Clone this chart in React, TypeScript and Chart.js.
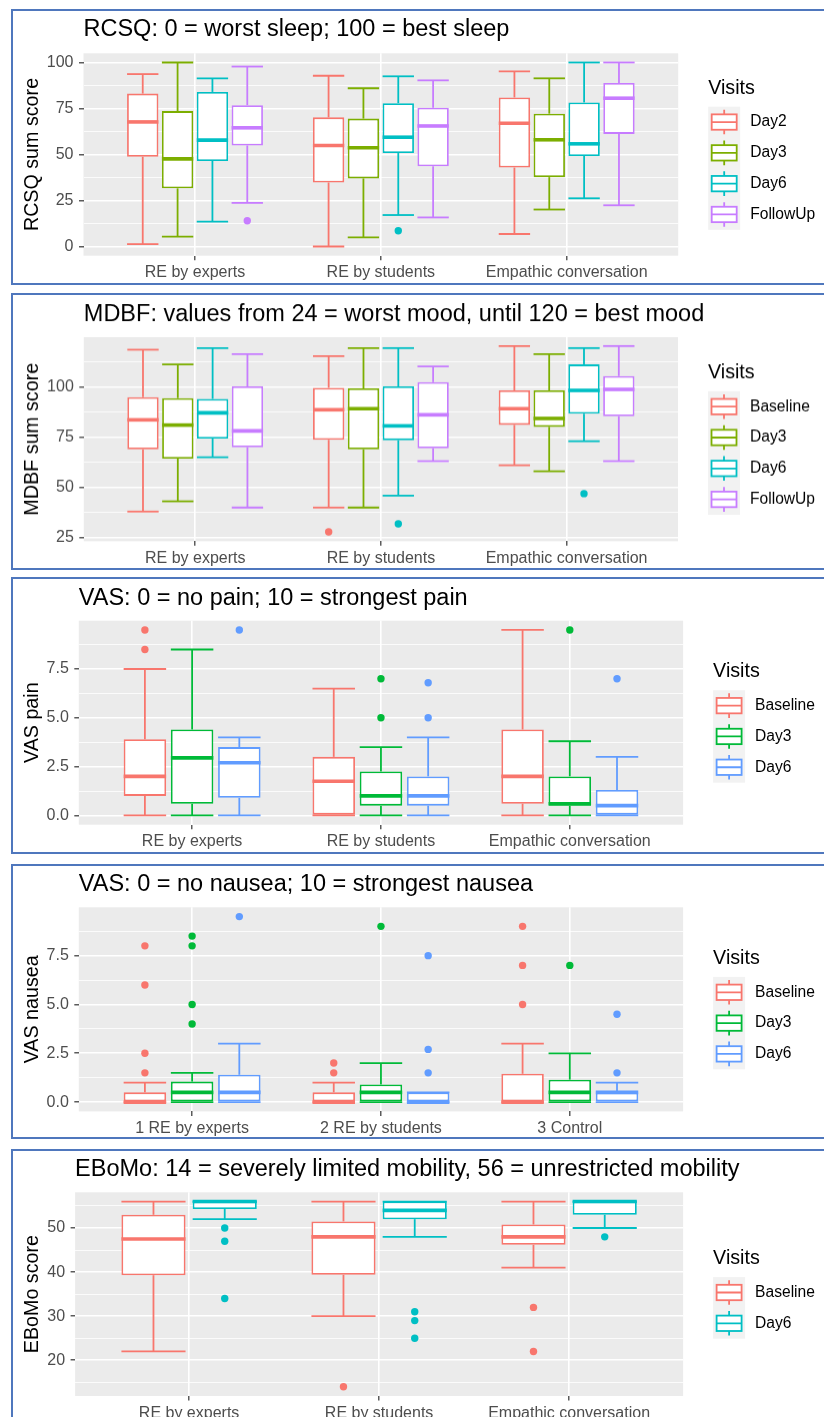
import React, { useEffect, useRef } from 'react';
import { Chart, registerables } from 'chart.js';

Chart.register(...registerables);

const FONT = '"Liberation Sans", Arial, Helvetica, sans-serif';

// ---------- categories / groups ----------
const GROUPS_MAIN = ['RE by experts', 'RE by students', 'Empathic conversation'];
const GROUPS_NAUSEA = ['1 RE by experts', '2 RE by students', '3 Control'];

const LEGEND_TITLE = 'Visits';
const VISITS_RCSQ = ['Day2', 'Day3', 'Day6', 'FollowUp'];
const VISITS_MDBF = ['Baseline', 'Day3', 'Day6', 'FollowUp'];
const VISITS_VAS = ['Baseline', 'Day3', 'Day6'];
const VISITS_EBOMO = ['Baseline', 'Day6'];

const HUE4 = ['#F8766D', '#7CAE00', '#00BFC4', '#C77CFF'];
const HUE3 = ['#F8766D', '#00BA38', '#619CFF'];
const HUE2 = ['#F8766D', '#00BFC4'];

// ---------- data: [lower whisker, Q1, median, Q3, upper whisker] per group ----------
// RCSQ
const RCSQ_DAY2 = [[1.3, 48.8, 67.7, 83.1, 93.7], [0, 34.8, 54.9, 70.2, 92.8], [6.8, 42.9, 67.0, 81.0, 95.2]];
const RCSQ_DAY3 = [[5.4, 31.6, 47.6, 73.6, 100], [5.0, 37.0, 53.7, 69.5, 86.0], [20.1, 37.7, 58.0, 72.2, 91.4]];
const RCSQ_DAY6 = [[13.5, 46.5, 57.8, 84.0, 91.4], [17.1, 50.8, 59.4, 77.9, 92.5], [26.2, 49.2, 55.8, 78.3, 100]];
const RCSQ_FOLLOWUP = [[23.7, 54.9, 64.5, 76.8, 97.8], [15.8, 43.6, 65.5, 75.4, 90.3], [22.4, 61.2, 80.6, 88.9, 100]];
const RCSQ_DAY2_OUT = [[], [], []];
const RCSQ_DAY3_OUT = [[], [], []];
const RCSQ_DAY6_OUT = [[], [8.6], []];
const RCSQ_FOLLOWUP_OUT = [[14.0], [], []];
const RCSQ_TICKS = [0, 25, 50, 75, 100];
const RCSQ_TICK_LABELS = ['0', '25', '50', '75', '100'];
const RCSQ_MINOR = [12.5, 37.5, 62.5, 87.5];
const RCSQ_RANGE = [-5, 105];

// MDBF
const MDBF_BASELINE = [[38.1, 69.0, 83.6, 94.9, 118.4], [40.1, 73.7, 88.6, 99.5, 115.2], [61.1, 81.1, 89.1, 98.2, 120.2]];
const MDBF_DAY3 = [[43.2, 64.4, 81.0, 94.4, 111.1], [40.1, 69.0, 89.1, 99.2, 119.2], [58.1, 80.1, 84.3, 98.2, 116.2]];
const MDBF_DAY6 = [[65.1, 74.3, 87.1, 94.0, 119.2], [46.0, 73.5, 80.6, 100.2, 119.2], [73.0, 86.6, 98.2, 111.1, 119.2]];
const MDBF_FOLLOWUP = [[40.1, 70.0, 78.1, 100.2, 116.2], [63.1, 69.5, 86.1, 102.3, 110.1], [63.1, 85.4, 98.7, 105.3, 120.2]];
const MDBF_BASELINE_OUT = [[], [28], []];
const MDBF_DAY3_OUT = [[], [], []];
const MDBF_DAY6_OUT = [[], [32], [47]];
const MDBF_FOLLOWUP_OUT = [[], [], []];
const MDBF_TICKS = [25, 50, 75, 100];
const MDBF_TICK_LABELS = ['25', '50', '75', '100'];
const MDBF_MINOR = [37.5, 62.5, 87.5, 112.5];
const MDBF_RANGE = [23.4, 124.6];

// VAS pain
const PAIN_BASELINE = [[0, 1.0, 2.0, 3.9, 7.5], [0, 0, 1.75, 3.0, 6.5], [0, 0.6, 2.0, 4.4, 9.5]];
const PAIN_DAY3 = [[0, 0.6, 2.95, 4.4, 8.5], [0, 0.5, 1.0, 2.25, 3.5], [0, 0.5, 0.6, 2.0, 3.8]];
const PAIN_DAY6 = [[0, 0.9, 2.7, 3.5, 4.0], [0, 0.5, 1.0, 2.0, 4.0], [0, 0, 0.5, 1.3, 3.0]];
const PAIN_BASELINE_OUT = [[8.5, 9.5], [], []];
const PAIN_DAY3_OUT = [[], [5.0, 7.0], [9.5]];
const PAIN_DAY6_OUT = [[9.5], [5.0, 6.8], [7.0]];

// VAS nausea
const NAUSEA_BASELINE = [[0, 0, 0, 0.5, 1.0], [0, 0, 0, 0.5, 1.0], [0, 0, 0, 1.45, 3.0]];
const NAUSEA_DAY3 = [[0, 0, 0.5, 1.05, 1.5], [0, 0, 0.5, 0.9, 2.0], [0, 0, 0.5, 1.15, 2.5]];
const NAUSEA_DAY6 = [[0, 0, 0.5, 1.4, 3.0], [0, 0, 0, 0.5, 0.5], [0, 0, 0.5, 0.5, 1.0]];
const NAUSEA_BASELINE_OUT = [[1.5, 2.5, 6.0, 8.0], [1.5, 2.0], [5.0, 7.0, 9.0]];
const NAUSEA_DAY3_OUT = [[4.0, 5.0, 8.0, 8.5], [9.0], [7.0]];
const NAUSEA_DAY6_OUT = [[9.5], [1.5, 2.7, 7.5], [1.5, 4.5]];

const VAS_TICKS = [0, 2.5, 5, 7.5];
const VAS_TICK_LABELS = ['0.0', '2.5', '5.0', '7.5'];
const VAS_MINOR = [1.25, 3.75, 6.25, 8.75];
const VAS_RANGE = [-0.475, 9.975];

// EBoMo
const EBOMO_BASELINE = [[22, 39.3, 47.5, 53.0, 56], [30, 39.4, 48.0, 51.5, 56], [41, 46.2, 48.0, 50.8, 56]];
const EBOMO_DAY6 = [[52, 54.3, 56, 56, 56], [48, 52, 54, 56, 56], [50, 53, 56, 56, 56]];
const EBOMO_BASELINE_OUT = [[], [14], [22, 32]];
const EBOMO_DAY6_OUT = [[34, 47, 50], [25, 29, 31], [48]];
const EBOMO_TICKS = [20, 30, 40, 50];
const EBOMO_TICK_LABELS = ['20', '30', '40', '50'];
const EBOMO_MINOR = [15, 25, 35, 45, 55];
const EBOMO_RANGE = [11.9, 58.1];

// ---------- panel layout (page pixel positions) ----------
const PANELS = [
  {
    title: 'RCSQ: 0 = worst sleep; 100 = best sleep', yTitle: 'RCSQ sum score',
    groups: GROUPS_MAIN, visits: VISITS_RCSQ, colors: HUE4,
    stats: [RCSQ_DAY2, RCSQ_DAY3, RCSQ_DAY6, RCSQ_FOLLOWUP],
    outliers: [RCSQ_DAY2_OUT, RCSQ_DAY3_OUT, RCSQ_DAY6_OUT, RCSQ_FOLLOWUP_OUT],
    ticks: RCSQ_TICKS, tickLabels: RCSQ_TICK_LABELS, minor: RCSQ_MINOR, range: RCSQ_RANGE,
    frameTop: 10, frameBottom: 284.3, titleY: 30,
    plot: { left: 83.5, right: 678.2, top: 53.3, bottom: 256 },
  },
  {
    title: 'MDBF: values from 24 = worst mood, until 120 = best mood', yTitle: 'MDBF sum score',
    groups: GROUPS_MAIN, visits: VISITS_MDBF, colors: HUE4,
    stats: [MDBF_BASELINE, MDBF_DAY3, MDBF_DAY6, MDBF_FOLLOWUP],
    outliers: [MDBF_BASELINE_OUT, MDBF_DAY3_OUT, MDBF_DAY6_OUT, MDBF_FOLLOWUP_OUT],
    ticks: MDBF_TICKS, tickLabels: MDBF_TICK_LABELS, minor: MDBF_MINOR, range: MDBF_RANGE,
    frameTop: 294.3, frameBottom: 569, titleY: 314.5,
    plot: { left: 83.8, right: 678, top: 337.3, bottom: 541.3 },
  },
  {
    title: 'VAS: 0 = no pain; 10 = strongest pain', yTitle: 'VAS pain',
    groups: GROUPS_MAIN, visits: VISITS_VAS, colors: HUE3,
    stats: [PAIN_BASELINE, PAIN_DAY3, PAIN_DAY6],
    outliers: [PAIN_BASELINE_OUT, PAIN_DAY3_OUT, PAIN_DAY6_OUT],
    ticks: VAS_TICKS, tickLabels: VAS_TICK_LABELS, minor: VAS_MINOR, range: VAS_RANGE,
    frameTop: 578.3, frameBottom: 853.3, titleY: 599,
    plot: { left: 78.8, right: 683.1, top: 621, bottom: 825 },
  },
  {
    title: 'VAS: 0 = no nausea; 10 = strongest nausea', yTitle: 'VAS nausea',
    groups: GROUPS_NAUSEA, visits: VISITS_VAS, colors: HUE3,
    stats: [NAUSEA_BASELINE, NAUSEA_DAY3, NAUSEA_DAY6],
    outliers: [NAUSEA_BASELINE_OUT, NAUSEA_DAY3_OUT, NAUSEA_DAY6_OUT],
    ticks: VAS_TICKS, tickLabels: VAS_TICK_LABELS, minor: VAS_MINOR, range: VAS_RANGE,
    frameTop: 865, frameBottom: 1138.3, titleY: 885,
    plot: { left: 78.8, right: 683.1, top: 907.3, bottom: 1111.7 },
  },
  {
    title: 'EBoMo: 14 = severely limited mobility, 56 = unrestricted mobility', yTitle: 'EBoMo score',
    groups: GROUPS_MAIN, visits: VISITS_EBOMO, colors: HUE2,
    stats: [EBOMO_BASELINE, EBOMO_DAY6],
    outliers: [EBOMO_BASELINE_OUT, EBOMO_DAY6_OUT],
    ticks: EBOMO_TICKS, tickLabels: EBOMO_TICK_LABELS, minor: EBOMO_MINOR, range: EBOMO_RANGE,
    frameTop: 1150, frameBottom: 1440, titleY: 1170,
    plot: { left: 75.1, right: 683.1, top: 1192.3, bottom: 1396 },
  },
];

const TITLE_SIZE = 23.5;
const AXIS_TITLE_SIZE = 19.7;
const TICK_SIZE = 16;
const LEGEND_TEXT_SIZE = 15.6;
const LINE_W = 1.8;
const MEDIAN_W = 3.6;
const GRID_MAJOR = 1.6;
const GRID_MINOR = 0.8;
const POINT_R = 3.7;
const BORDER_COLOR = '#4F77BD';

function BoxPanel({ cfg }: { cfg: any }) {
  const ref = useRef<HTMLCanvasElement | null>(null);
  const canvasH = cfg.frameBottom - cfg.frameTop;

  useEffect(() => {
    const canvas = ref.current;
    if (!canvas) return;
    const top0 = cfg.frameTop;
    const plotTop = cfg.plot.top - top0;
    const plotBottom = cfg.plot.bottom - top0;
    const isMajor = (v: number) => cfg.ticks.some((t: number) => Math.abs(t - v) < 1e-6);
    const allTicks = [...cfg.ticks, ...cfg.minor].sort((a: number, b: number) => a - b);

    const datasets = cfg.visits.map((v: string, i: number) => ({
      label: v,
      data: cfg.stats[i].map((s: number[], j: number) => ({ x: j + 1, y: [s[1], s[3]] })),
      backgroundColor: '#FFFFFF',
      borderColor: cfg.colors[i],
      borderWidth: LINE_W,
      borderSkipped: false,
      categoryPercentage: 0.75,
      barPercentage: 0.9,
    }));

    const bgPlugin = {
      id: 'panelBg',
      beforeDraw(chart: any) {
        const { ctx, chartArea: a } = chart;
        ctx.save();
        ctx.fillStyle = '#EBEBEB';
        ctx.fillRect(a.left, a.top, a.right - a.left, a.bottom - a.top);
        ctx.restore();
      },
    };

    const titlePlugin = {
      id: 'ggTitle',
      afterDraw(chart: any) {
        const { ctx, chartArea: a } = chart;
        ctx.save();
        ctx.fillStyle = '#000000';
        ctx.font = `${TITLE_SIZE}px ${FONT}`;
        ctx.textAlign = 'left';
        ctx.textBaseline = 'middle';
        ctx.fillText(cfg.title, a.left, cfg.titleY - top0);
        ctx.restore();
      },
    };

    const boxPlugin = {
      id: 'boxWhiskers',
      afterDatasetsDraw(chart: any) {
        const ctx = chart.ctx;
        const ys = chart.scales.y;
        const py = (v: number) => ys.getPixelForValue(v);
        const seg = (x1: number, y1: number, x2: number, y2: number) => {
          ctx.beginPath();
          ctx.moveTo(x1, y1);
          ctx.lineTo(x2, y2);
          ctx.stroke();
        };
        chart.data.datasets.forEach((ds: any, i: number) => {
          const meta = chart.getDatasetMeta(i);
          meta.data.forEach((el: any, j: number) => {
            const [lo, q1, med, q3, hi] = cfg.stats[i][j];
            const x = el.x;
            const half = el.width / 2;
            ctx.save();
            ctx.strokeStyle = ds.borderColor;
            ctx.lineWidth = LINE_W;
            ctx.lineCap = 'butt';
            if (hi > q3) seg(x, py(q3), x, py(hi));
            if (lo < q1) seg(x, py(q1), x, py(lo));
            seg(x - half, py(hi), x + half, py(hi));
            seg(x - half, py(lo), x + half, py(lo));
            ctx.lineWidth = MEDIAN_W;
            seg(x - half, py(med), x + half, py(med));
            ctx.fillStyle = ds.borderColor;
            for (const o of cfg.outliers[i][j]) {
              ctx.beginPath();
              ctx.arc(x, py(o), POINT_R, 0, Math.PI * 2);
              ctx.fill();
            }
            ctx.restore();
          });
        });
      },
    };

    const legendPlugin = {
      id: 'ggLegend',
      afterDraw(chart: any) {
        const { ctx, chartArea: a } = chart;
        const n = chart.data.datasets.length;
        const W = 32;
        const H = 30.8;
        const left = a.right + 30;
        const cy = (a.top + a.bottom) / 2;
        const total = 28.5 + n * H;
        const top = cy - total / 2 - 0.5;
        ctx.save();
        ctx.textAlign = 'left';
        ctx.textBaseline = 'middle';
        ctx.fillStyle = '#000000';
        ctx.font = `${AXIS_TITLE_SIZE}px ${FONT}`;
        ctx.fillText(LEGEND_TITLE, left, top + 10);
        const ky = top + 28.5;
        ctx.fillStyle = '#F2F2F2';
        ctx.fillRect(left, ky, W, n * H);
        chart.data.datasets.forEach((ds: any, i: number) => {
          const y0 = ky + i * H;
          const bx1 = left + 3.5;
          const bx2 = left + W - 3.5;
          const cx = left + W / 2;
          ctx.fillStyle = '#FFFFFF';
          ctx.fillRect(bx1, y0 + 0.25 * H, bx2 - bx1, 0.5 * H);
          ctx.strokeStyle = ds.borderColor;
          ctx.lineWidth = LINE_W;
          ctx.strokeRect(bx1, y0 + 0.25 * H, bx2 - bx1, 0.5 * H);
          ctx.beginPath();
          ctx.moveTo(cx, y0 + 0.1 * H);
          ctx.lineTo(cx, y0 + 0.25 * H);
          ctx.moveTo(cx, y0 + 0.75 * H);
          ctx.lineTo(cx, y0 + 0.9 * H);
          ctx.moveTo(bx1, y0 + 0.5 * H);
          ctx.lineTo(bx2, y0 + 0.5 * H);
          ctx.stroke();
          ctx.fillStyle = '#000000';
          ctx.font = `${LEGEND_TEXT_SIZE}px ${FONT}`;
          ctx.fillText(ds.label, left + W + 10, y0 + H / 2);
        });
        ctx.restore();
      },
    };

    const chart = new Chart(canvas, {
      type: 'bar',
      data: { datasets },
      options: {
        responsive: false,
        maintainAspectRatio: false,
        animation: false,
        devicePixelRatio: 1,
        events: [],
        layout: { padding: { left: 0, top: plotTop, bottom: 0, right: 824 - cfg.plot.right } },
        plugins: {
          legend: { display: false },
          tooltip: { enabled: false },
          title: { display: false },
        },
        scales: {
          x: {
            type: 'linear',
            min: 0.4,
            max: 3.6,
            offset: false,
            afterBuildTicks: (s: any) => {
              s.ticks = cfg.groups.map((_: string, i: number) => ({ value: i + 1 }));
            },
            afterFit: (s: any) => {
              s.height = canvasH - plotBottom;
            },
            grid: {
              color: '#FFFFFF',
              lineWidth: GRID_MAJOR,
              offset: false,
              drawTicks: true,
              tickLength: 4.5,
              tickColor: '#333333',
              tickWidth: 1.2,
            },
            border: { display: false },
            ticks: {
              autoSkip: false,
              maxRotation: 0,
              minRotation: 0,
              padding: 3,
              color: '#4D4D4D',
              font: { family: FONT, size: TICK_SIZE },
              callback: (v: any) => cfg.groups[Math.round(Number(v)) - 1] ?? '',
            },
          },
          y: {
            type: 'linear',
            min: cfg.range[0],
            max: cfg.range[1],
            beginAtZero: false,
            afterBuildTicks: (s: any) => {
              s.ticks = allTicks.map((v: number) => ({ value: v }));
            },
            afterFit: (s: any) => {
              s.width = cfg.plot.left;
            },
            grid: {
              color: '#FFFFFF',
              lineWidth: (c: any) => (c.tick && isMajor(c.tick.value) ? GRID_MAJOR : GRID_MINOR),
              drawTicks: true,
              tickLength: 4.5,
              tickColor: (c: any) => (c.tick && isMajor(c.tick.value) ? '#333333' : 'rgba(0,0,0,0)'),
              tickWidth: 1.2,
            },
            border: { display: false },
            ticks: {
              autoSkip: false,
              padding: 5.5,
              color: '#4D4D4D',
              font: { family: FONT, size: TICK_SIZE },
              callback: (v: any) => {
                const idx = cfg.ticks.findIndex((t: number) => Math.abs(t - Number(v)) < 1e-6);
                return idx >= 0 ? cfg.tickLabels[idx] : '';
              },
            },
            title: {
              display: true,
              text: cfg.yTitle,
              color: '#000000',
              font: { family: FONT, size: AXIS_TITLE_SIZE, lineHeight: 1.2 },
              padding: { top: 20.5, bottom: 0 },
            },
          },
        },
      },
      plugins: [bgPlugin, boxPlugin, legendPlugin, titlePlugin],
    } as any);

    return () => chart.destroy();
  }, [cfg, canvasH]);

  return (
    <canvas
      ref={ref}
      width={824}
      height={canvasH}
      style={{ position: 'absolute', left: 0, top: cfg.frameTop, width: 824, height: canvasH, display: 'block' }}
    />
  );
}

export default function App() {
  return (
    <div
      style={{
        position: 'absolute',
        left: 0,
        top: 0,
        width: 824,
        height: 1417,
        overflow: 'hidden',
        background: '#FFFFFF',
      }}
    >
      {PANELS.map((p, i) => (
        <React.Fragment key={i}>
          <div
            style={{
              position: 'absolute',
              left: 11.3,
              top: p.frameTop - 1,
              width: 900,
              height: p.frameBottom - p.frameTop + 2,
              border: `2px solid ${BORDER_COLOR}`,
              boxSizing: 'border-box',
            }}
          />
          <BoxPanel cfg={p} />
        </React.Fragment>
      ))}
    </div>
  );
}
